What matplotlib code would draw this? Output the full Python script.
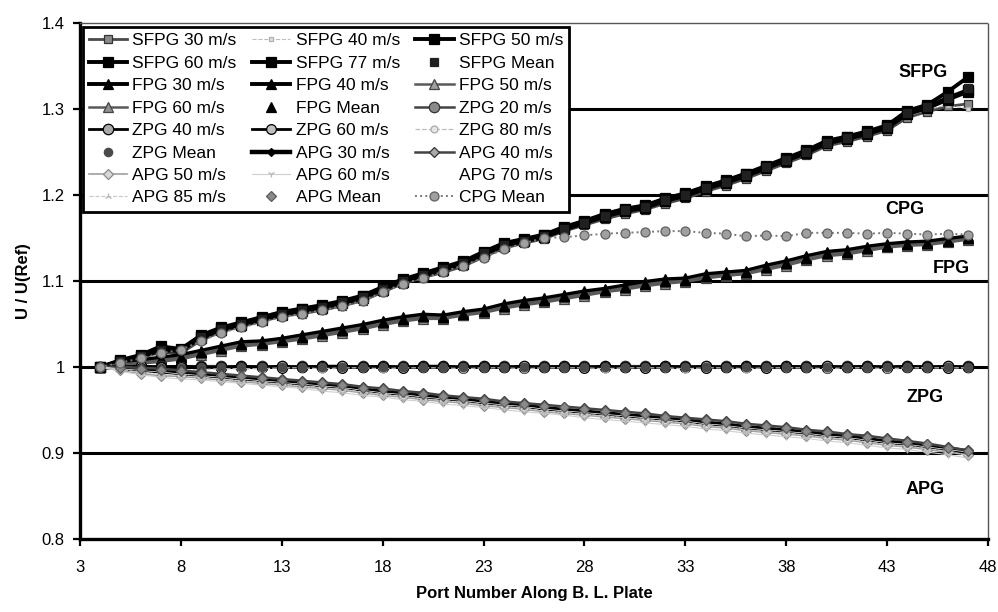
import matplotlib.pyplot as plt

plt.rcParams['font.family'] = ['Liberation Sans', 'DejaVu Sans']

# Port numbers along the boundary-layer plate
ports = [4, 5, 6, 7, 8, 9, 10, 11, 12, 13, 14, 15, 16, 17, 18, 19, 20, 21, 22, 23, 24, 25,
         26, 27, 28, 29, 30, 31, 32, 33, 34, 35, 36, 37, 38, 39, 40, 41, 42, 43, 44, 45, 46, 47]

# --- SFPG ---
sfpg_30 = [1.000, 1.005, 1.011, 1.017, 1.016, 1.031, 1.041, 1.047, 1.053, 1.059, 1.062, 1.066, 1.071, 1.077, 1.087,
           1.097, 1.104, 1.110, 1.117, 1.128, 1.138, 1.144, 1.149, 1.158, 1.165, 1.172, 1.178, 1.183, 1.190, 1.196,
           1.204, 1.211, 1.219, 1.228, 1.237, 1.246, 1.257, 1.262, 1.268, 1.275, 1.290, 1.297, 1.303, 1.306]
sfpg_40 = [1.000, 1.006, 1.012, 1.018, 1.018, 1.033, 1.042, 1.048, 1.054, 1.060, 1.064, 1.068, 1.073, 1.079, 1.089,
           1.098, 1.105, 1.112, 1.119, 1.130, 1.140, 1.145, 1.150, 1.159, 1.166, 1.174, 1.180, 1.184, 1.192, 1.198,
           1.206, 1.213, 1.221, 1.230, 1.239, 1.248, 1.259, 1.264, 1.270, 1.277, 1.292, 1.299, 1.305, 1.300]
sfpg_50 = [1.000, 1.006, 1.012, 1.019, 1.019, 1.034, 1.043, 1.049, 1.055, 1.061, 1.065, 1.069, 1.074, 1.080, 1.090,
           1.099, 1.106, 1.113, 1.120, 1.131, 1.141, 1.146, 1.151, 1.160, 1.167, 1.175, 1.181, 1.185, 1.193, 1.199,
           1.207, 1.214, 1.222, 1.231, 1.240, 1.249, 1.260, 1.265, 1.271, 1.278, 1.294, 1.301, 1.311, 1.320]
sfpg_60 = [1.000, 1.007, 1.013, 1.021, 1.020, 1.036, 1.045, 1.051, 1.057, 1.063, 1.067, 1.071, 1.076, 1.082, 1.092,
           1.101, 1.108, 1.115, 1.122, 1.133, 1.143, 1.148, 1.153, 1.162, 1.169, 1.177, 1.183, 1.187, 1.195, 1.201,
           1.209, 1.216, 1.224, 1.233, 1.242, 1.251, 1.262, 1.267, 1.273, 1.280, 1.296, 1.303, 1.313, 1.322]
sfpg_77 = [1.000, 1.008, 1.014, 1.024, 1.021, 1.037, 1.046, 1.052, 1.058, 1.064, 1.068, 1.072, 1.077, 1.083, 1.093,
           1.102, 1.109, 1.116, 1.123, 1.134, 1.144, 1.149, 1.154, 1.163, 1.170, 1.178, 1.184, 1.188, 1.196, 1.202,
           1.210, 1.217, 1.225, 1.234, 1.243, 1.252, 1.263, 1.268, 1.274, 1.281, 1.298, 1.305, 1.320, 1.337]
sfpg_mean = [1.000, 1.007, 1.013, 1.020, 1.020, 1.035, 1.044, 1.050, 1.056, 1.062, 1.066, 1.070, 1.075, 1.081, 1.091,
             1.100, 1.107, 1.114, 1.121, 1.132, 1.142, 1.147, 1.152, 1.161, 1.168, 1.176, 1.182, 1.186, 1.194, 1.200,
             1.208, 1.215, 1.223, 1.232, 1.241, 1.250, 1.261, 1.266, 1.272, 1.279, 1.295, 1.302, 1.313, 1.325]

# --- FPG ---
fpg_30 = [1.000, 1.004, 1.008, 1.011, 1.014, 1.019, 1.024, 1.029, 1.030, 1.033, 1.037, 1.041, 1.045, 1.049, 1.054,
          1.058, 1.061, 1.060, 1.064, 1.067, 1.073, 1.077, 1.080, 1.084, 1.088, 1.091, 1.095, 1.099, 1.102, 1.103,
          1.108, 1.110, 1.112, 1.118, 1.123, 1.129, 1.134, 1.136, 1.140, 1.143, 1.145, 1.146, 1.149, 1.152]
fpg_40 = [1.000, 1.003, 1.006, 1.009, 1.012, 1.017, 1.022, 1.027, 1.028, 1.031, 1.035, 1.039, 1.043, 1.047, 1.052,
          1.056, 1.059, 1.058, 1.062, 1.065, 1.071, 1.075, 1.078, 1.082, 1.086, 1.089, 1.093, 1.097, 1.100, 1.101,
          1.106, 1.108, 1.110, 1.116, 1.121, 1.127, 1.132, 1.134, 1.138, 1.141, 1.143, 1.144, 1.147, 1.150]
fpg_50 = [1.000, 1.002, 1.004, 1.006, 1.009, 1.014, 1.019, 1.024, 1.026, 1.029, 1.032, 1.036, 1.040, 1.044, 1.049,
          1.053, 1.056, 1.056, 1.060, 1.063, 1.068, 1.072, 1.075, 1.079, 1.083, 1.087, 1.090, 1.094, 1.097, 1.099,
          1.103, 1.106, 1.108, 1.113, 1.118, 1.124, 1.129, 1.131, 1.135, 1.139, 1.141, 1.142, 1.145, 1.148]
fpg_60 = [1.000, 1.003, 1.005, 1.008, 1.011, 1.016, 1.021, 1.026, 1.027, 1.030, 1.034, 1.038, 1.042, 1.046, 1.051,
          1.055, 1.058, 1.057, 1.061, 1.064, 1.070, 1.074, 1.077, 1.081, 1.085, 1.088, 1.092, 1.096, 1.099, 1.100,
          1.105, 1.107, 1.109, 1.115, 1.120, 1.126, 1.131, 1.133, 1.137, 1.140, 1.142, 1.143, 1.146, 1.149]
fpg_mean = [1.000, 1.003, 1.006, 1.009, 1.012, 1.017, 1.022, 1.027, 1.028, 1.031, 1.035, 1.039, 1.043, 1.047, 1.052,
            1.056, 1.059, 1.058, 1.062, 1.065, 1.071, 1.075, 1.078, 1.082, 1.086, 1.089, 1.093, 1.097, 1.100, 1.101,
            1.106, 1.108, 1.110, 1.116, 1.121, 1.127, 1.132, 1.134, 1.138, 1.141, 1.143, 1.144, 1.147, 1.150]

# --- ZPG ---
zpg_20 = [1.000, 1.001, 1.000, 1.001, 1.000, 1.001, 1.001, 1.000, 1.001, 1.000, 1.001, 1.000, 1.000, 1.001, 1.000,
          1.001, 1.000, 1.000, 1.001, 1.000, 1.001, 1.000, 1.001, 1.000, 1.001, 1.000, 1.001, 1.001, 1.000, 1.001,
          1.000, 1.001, 1.000, 1.001, 1.000, 1.001, 1.000, 1.001, 1.000, 1.001, 1.000, 1.001, 1.000, 1.001]
zpg_40 = [1.000, 1.000, 1.001, 1.000, 1.001, 1.000, 1.000, 1.001, 1.000, 1.001, 1.000, 1.001, 1.001, 1.000, 1.001,
          1.000, 1.001, 1.001, 1.000, 1.001, 1.000, 1.001, 1.000, 1.001, 1.000, 1.001, 1.000, 1.000, 1.001, 1.000,
          1.001, 1.000, 1.001, 1.000, 1.001, 1.000, 1.001, 1.000, 1.001, 1.000, 1.001, 1.000, 1.001, 1.000]
zpg_60 = [1.000, 1.000, 0.999, 1.000, 1.000, 1.000, 0.999, 1.000, 1.000, 0.999, 1.000, 1.000, 0.999, 1.000, 1.000,
          0.999, 1.000, 1.000, 0.999, 1.000, 1.000, 0.999, 1.000, 1.000, 0.999, 1.000, 1.000, 0.999, 1.000, 1.000,
          0.999, 1.000, 1.000, 0.999, 1.000, 1.000, 0.999, 1.000, 1.000, 0.999, 1.000, 1.000, 0.999, 1.000]
zpg_80 = [1.000, 0.998, 0.996, 0.995, 0.996, 0.997, 0.998, 0.998, 0.998, 0.999, 0.999, 0.998, 0.999, 0.999, 0.998,
          0.999, 0.999, 0.999, 0.998, 0.999, 0.999, 0.998, 0.999, 0.999, 0.999, 0.998, 0.999, 0.999, 0.999, 0.998,
          0.999, 0.999, 0.998, 0.999, 0.999, 0.999, 0.998, 0.999, 0.999, 0.998, 0.999, 0.999, 0.999, 0.999]
zpg_mean = [1.000, 1.000, 0.999, 0.999, 0.999, 1.000, 1.000, 1.000, 1.000, 1.000, 1.000, 1.000, 1.000, 1.000, 1.000,
            1.000, 1.000, 1.000, 1.000, 1.000, 1.000, 1.000, 1.000, 1.000, 1.000, 1.000, 1.000, 1.000, 1.000, 1.000,
            1.000, 1.000, 1.000, 1.000, 1.000, 1.000, 1.000, 1.000, 1.000, 1.000, 1.000, 1.000, 1.000, 1.000]

# --- APG ---
apg_30 = [1.000, 0.999, 0.997, 0.995, 0.993, 0.991, 0.989, 0.987, 0.985, 0.983, 0.981, 0.979, 0.977, 0.974, 0.971,
          0.969, 0.966, 0.964, 0.962, 0.959, 0.957, 0.955, 0.952, 0.950, 0.948, 0.946, 0.944, 0.942, 0.940, 0.938,
          0.935, 0.933, 0.930, 0.928, 0.926, 0.924, 0.921, 0.919, 0.916, 0.913, 0.911, 0.908, 0.905, 0.902]
apg_40 = [1.000, 1.000, 0.999, 0.998, 0.996, 0.994, 0.992, 0.990, 0.988, 0.986, 0.984, 0.982, 0.980, 0.977, 0.975,
          0.972, 0.970, 0.967, 0.965, 0.963, 0.960, 0.958, 0.956, 0.954, 0.952, 0.950, 0.948, 0.946, 0.943, 0.941,
          0.939, 0.937, 0.934, 0.932, 0.930, 0.927, 0.925, 0.922, 0.920, 0.917, 0.914, 0.911, 0.907, 0.903]
apg_50 = [1.000, 0.996, 0.992, 0.990, 0.989, 0.987, 0.985, 0.983, 0.981, 0.979, 0.977, 0.975, 0.973, 0.970, 0.967,
          0.965, 0.962, 0.960, 0.958, 0.955, 0.953, 0.951, 0.948, 0.946, 0.944, 0.942, 0.940, 0.938, 0.936, 0.934,
          0.931, 0.929, 0.926, 0.924, 0.922, 0.920, 0.917, 0.915, 0.912, 0.909, 0.907, 0.904, 0.901, 0.898]
apg_60 = [1.000, 0.995, 0.991, 0.988, 0.986, 0.985, 0.983, 0.981, 0.979, 0.977, 0.975, 0.972, 0.970, 0.967, 0.965,
          0.962, 0.960, 0.957, 0.955, 0.953, 0.950, 0.948, 0.946, 0.944, 0.941, 0.939, 0.937, 0.935, 0.933, 0.931,
          0.928, 0.926, 0.923, 0.921, 0.919, 0.917, 0.914, 0.912, 0.909, 0.906, 0.904, 0.901, 0.898, 0.894]
apg_70 = [1.000, 0.998, 0.996, 0.994, 0.992, 0.990, 0.988, 0.986, 0.984, 0.982, 0.980, 0.978, 0.976, 0.973, 0.970,
          0.968, 0.965, 0.963, 0.961, 0.958, 0.956, 0.954, 0.951, 0.949, 0.947, 0.945, 0.943, 0.941, 0.939, 0.937,
          0.934, 0.932, 0.929, 0.927, 0.925, 0.923, 0.920, 0.918, 0.915, 0.912, 0.910, 0.907, 0.904, 0.901]
apg_85 = [1.000, 0.997, 0.994, 0.991, 0.990, 0.988, 0.986, 0.984, 0.982, 0.980, 0.978, 0.976, 0.974, 0.971, 0.968,
          0.966, 0.963, 0.961, 0.959, 0.956, 0.954, 0.952, 0.949, 0.947, 0.945, 0.943, 0.941, 0.939, 0.937, 0.935,
          0.932, 0.930, 0.927, 0.925, 0.923, 0.921, 0.918, 0.916, 0.913, 0.910, 0.908, 0.905, 0.902, 0.897]
apg_mean = [1.000, 0.999, 0.998, 0.997, 0.995, 0.993, 0.991, 0.989, 0.987, 0.985, 0.983, 0.981, 0.979, 0.976, 0.974,
            0.971, 0.969, 0.966, 0.964, 0.962, 0.959, 0.957, 0.955, 0.953, 0.951, 0.949, 0.947, 0.945, 0.942, 0.940,
            0.938, 0.936, 0.933, 0.931, 0.929, 0.926, 0.924, 0.921, 0.919, 0.916, 0.913, 0.910, 0.906, 0.902]

# --- CPG ---
cpg_mean = [1.000, 1.005, 1.010, 1.016, 1.020, 1.030, 1.040, 1.046, 1.052, 1.058, 1.062, 1.066, 1.071, 1.077, 1.087,
            1.097, 1.103, 1.111, 1.118, 1.127, 1.137, 1.144, 1.150, 1.151, 1.153, 1.155, 1.156, 1.157, 1.158, 1.158,
            1.156, 1.155, 1.152, 1.153, 1.152, 1.156, 1.156, 1.156, 1.155, 1.156, 1.155, 1.154, 1.155, 1.154]

labels = ["SFPG 30 m/s", "SFPG 40 m/s", "SFPG 50 m/s", "SFPG 60 m/s", "SFPG 77 m/s", "SFPG Mean",
          "FPG 30 m/s", "FPG 40 m/s", "FPG 50 m/s", "FPG 60 m/s", "FPG Mean", "ZPG 20 m/s",
          "ZPG 40 m/s", "ZPG 60 m/s", "ZPG 80 m/s", "ZPG Mean", "APG 30 m/s", "APG 40 m/s",
          "APG 50 m/s", "APG 60 m/s", "APG 70 m/s", "APG 85 m/s", "APG Mean", "CPG Mean"]
series = [sfpg_30, sfpg_40, sfpg_50, sfpg_60, sfpg_77, sfpg_mean,
          fpg_30, fpg_40, fpg_50, fpg_60, fpg_mean, zpg_20,
          zpg_40, zpg_60, zpg_80, zpg_mean, apg_30, apg_40,
          apg_50, apg_60, apg_70, apg_85, apg_mean, cpg_mean]

# (line color, linestyle, linewidth, marker, marker face, marker edge, marker size)
styles = [
    ("#4a4a4a", "-", 2.0, "s", "#8a8a8a", "#333333", 6),
    ("#bdbdbd", "--", 0.8, "s", "#e0e0e0", "#b0b0b0", 3.5),
    ("black", "-", 2.8, "s", "black", "black", 6.5),
    ("black", "-", 2.8, "s", "black", "black", 7),
    ("black", "-", 2.8, "s", "black", "black", 7.5),
    ("none", "none", 0, "s", "#202020", "#202020", 6),
    ("black", "-", 2.8, "^", "black", "black", 7.5),
    ("black", "-", 2.8, "^", "black", "black", 7.5),
    ("#5a5a5a", "-", 1.8, "^", "#a0a0a0", "#444444", 6.5),
    ("#5a5a5a", "-", 1.8, "^", "#909090", "#444444", 6.5),
    ("none", "none", 0, "^", "black", "black", 7.5),
    ("#444444", "-", 1.8, "o", "#8a8a8a", "#333333", 7.5),
    ("black", "-", 2.0, "o", "#aaaaaa", "black", 7.5),
    ("black", "-", 2.0, "o", "#c0c0c0", "black", 7),
    ("#bdbdbd", "--", 0.9, "o", "#e6e6e6", "#aaaaaa", 5),
    ("none", "none", 0, "o", "#4a4a4a", "#4a4a4a", 6),
    ("black", "-", 3.2, "D", "black", "black", 4.5),
    ("#444444", "-", 1.8, "D", "#aaaaaa", "#333333", 5.5),
    ("#a0a0a0", "-", 1.2, "D", "#d8d8d8", "#8a8a8a", 5),
    ("#cfcfcf", "-", 0.8, "1", "#cccccc", "#b5b5b5", 5),
    ("white", "-", 0.5, "none", "white", "white", 1),
    ("#c8c8c8", "--", 0.8, "2", "#cccccc", "#b5b5b5", 5),
    ("none", "none", 0, "D", "#8a8a8a", "#5a5a5a", 5.5),
    ("#7a7a7a", ":", 1.4, "o", "#a0a0a0", "#606060", 6.5),
]

fig = plt.figure(figsize=(9.98, 6.12), dpi=100)
ax = fig.add_axes([0.0802, 0.1193, 0.9098, 0.8431])

for y in [0.9, 1.0, 1.1, 1.2, 1.3]:
    ax.axhline(y, color="black", lw=2.2, zorder=1)

handles = []
for lab, vals, (c, ls, lw, mk, mfc, mec, ms) in zip(labels, series, styles):
    h, = ax.plot(ports, vals, color=c, linestyle=ls, linewidth=lw, marker=mk,
                 markerfacecolor=mfc, markeredgecolor=mec, markersize=ms,
                 markeredgewidth=0.9, label=lab, zorder=2)
    handles.append(h)

ax.set_xlim(3, 48)
ax.set_ylim(0.8, 1.4)
ax.set_xticks([3, 8, 13, 18, 23, 28, 33, 38, 43, 48])
ax.set_yticks([0.8, 0.9, 1.0, 1.1, 1.2, 1.3, 1.4])
ax.set_yticklabels(["0.8", "0.9", "1", "1.1", "1.2", "1.3", "1.4"])
ax.tick_params(axis="both", direction="out", length=5, width=1.6, labelsize=12, pad=6)
ax.tick_params(axis="x", pad=10)

for side in ["left", "bottom"]:
    ax.spines[side].set_linewidth(2.4)
for side in ["top", "right"]:
    ax.spines[side].set_linewidth(1.0)
    ax.spines[side].set_color("#555555")
    ax.spines[side].set_linestyle((0, (2, 1)))

ax.set_xlabel("Port Number Along B. L. Plate", fontsize=12, fontweight="bold", labelpad=8)
ax.set_ylabel("U / U(Ref)", fontsize=12, fontweight="bold", labelpad=8)

# group labels on the right
for txt, xp, yp in [("SFPG", 44.8, 1.342), ("CPG", 43.9, 1.183), ("FPG", 46.2, 1.115),
                    ("ZPG", 44.9, 0.964), ("APG", 44.9, 0.857)]:
    ax.text(xp, yp, txt, fontsize=13, fontweight="bold", ha="center", va="center")

# Excel-style legend filled row by row
order = [i for c in range(3) for i in range(c, 24, 3)]
leg = ax.legend([handles[i] for i in order], [labels[i] for i in order], ncol=3,
                loc="upper left", bbox_to_anchor=(0.003, 0.992), borderaxespad=0,
                fontsize=12.5, frameon=True, fancybox=False, framealpha=1,
                handlelength=2.2, handletextpad=0.3, columnspacing=0.9,
                labelspacing=0.42, borderpad=0.35, numpoints=1)
leg.get_frame().set_edgecolor("black")
leg.get_frame().set_linewidth(2.0)
leg.set_zorder(5)

fig.savefig("out.png", dpi=100)
